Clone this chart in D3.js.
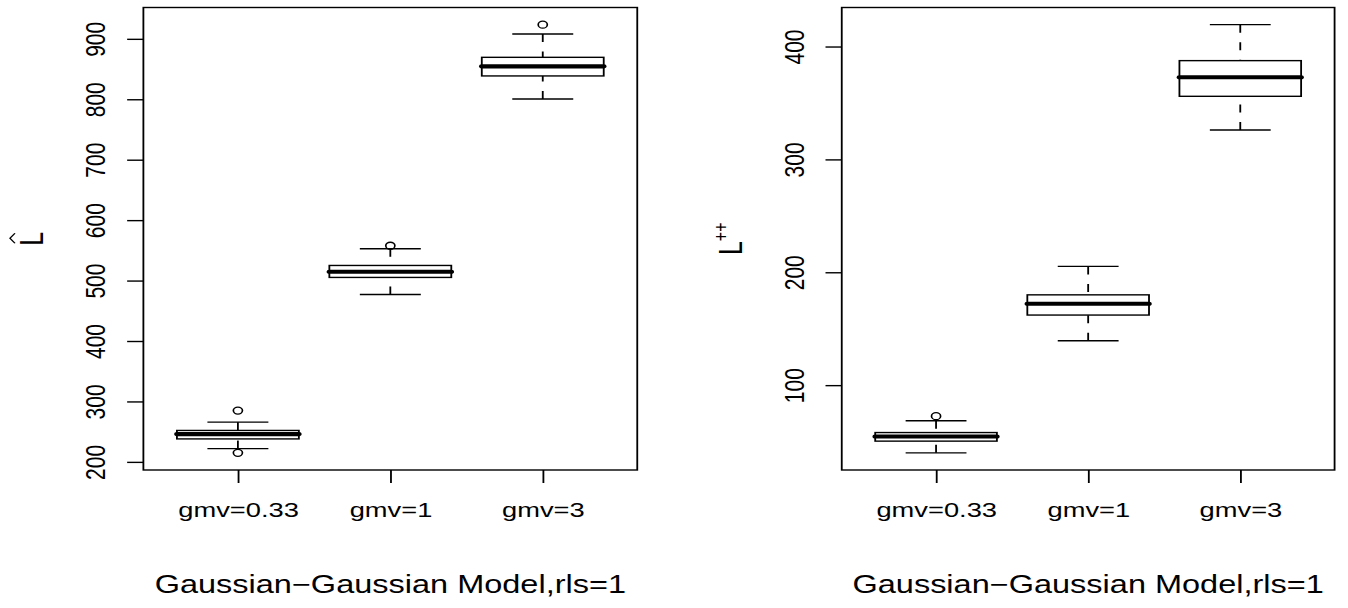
<!DOCTYPE html>
<html>
<head>
<meta charset="utf-8">
<script src="https://cdn.jsdelivr.net/npm/d3@7"></script>
<style>
body { margin: 0; background: #fff; }
svg text { font-family: "Liberation Sans", Arial, Helvetica, sans-serif; fill: #000; }
</style>
</head>
<body>
<div id="chart"></div>
<script>
// frame size, the R picture is stretched sideways so we draw in a narrower viewBox
const FRAME_WIDTH = 1348;
const FRAME_HEIGHT = 608;
const STRETCH = 1.3;
const VB_WIDTH = FRAME_WIDTH / STRETCH;

const PLOT_TOP = 7.5;
const PLOT_BOTTOM = 470;

const CATEGORIES = ['gmv=0.33', 'gmv=1', 'gmv=3'];
const TITLE = 'Gaussian\u2212Gaussian Model,rls=1';

// box stats per category: [lower whisker, q1, median, q3, upper whisker]
const LHAT_STATS = [
	[222, 238, 246, 252, 265.7],
	[477, 505.2, 514.6, 525, 552.6],
	[800.5, 838.6, 854.5, 869.4, 908.1]
];
const LHAT_OUTLIERS = [[284.9, 214.9], [557.6], [923.5]];
const LHAT_TICKS = [200, 300, 400, 500, 600, 700, 800, 900];

const LPP_STATS = [
	[40, 50.4, 54.5, 58, 68.4],
	[139.3, 162.1, 172.1, 180, 205.2],
	[326, 355.9, 372.8, 387.5, 419.4]
];
const LPP_OUTLIERS = [[72.5], [], []];
const LPP_TICKS = [100, 200, 300, 400];

const FRAME = d3.select('#chart')
	.append('svg')
		.attr('width', FRAME_WIDTH)
		.attr('height', FRAME_HEIGHT)
		.attr('viewBox', '0 0 ' + VB_WIDTH + ' ' + FRAME_HEIGHT)
		.attr('preserveAspectRatio', 'none');

function drawPanel(left, right, stats, outliers, ticks) {
	// R style range: data range plus 4% each side
	const all = stats.flat().concat(outliers.flat());
	const lo = d3.min(all), hi = d3.max(all);
	const pad = (hi - lo) * 0.04;
	const yscale = d3.scaleLinear()
		.domain([lo - pad, hi + pad])
		.range([PLOT_BOTTOM, PLOT_TOP]);
	const n = stats.length;
	const xpad = n * 0.04;
	const xscale = d3.scaleLinear()
		.domain([0.5 - xpad, n + 0.5 + xpad])
		.range([left, right]);

	const g = FRAME.append('g');

	// boxes
	g.selectAll('.box')
		.data(stats)
		.enter()
		.append('rect')
			.attr('x', (d, i) => xscale(i + 1 - 0.4))
			.attr('width', (d, i) => xscale(i + 1.4) - xscale(i + 0.6))
			.attr('y', d => yscale(d[3]))
			.attr('height', d => yscale(d[1]) - yscale(d[3]))
			.attr('fill', 'none')
			.attr('stroke', '#000')
			.attr('stroke-width', 1.4);

	// whiskers, dashed from whisker end towards box
	const whiskers = stats.flatMap((s, i) => [
		{i: i, from: s[0], to: s[1]},
		{i: i, from: s[4], to: s[3]}
	]);
	g.selectAll('.whisker')
		.data(whiskers)
		.enter()
		.append('line')
			.attr('x1', d => xscale(d.i + 1))
			.attr('x2', d => xscale(d.i + 1))
			.attr('y1', d => yscale(d.from))
			.attr('y2', d => yscale(d.to))
			.attr('stroke', '#000')
			.attr('stroke-width', 1.4)
			.attr('stroke-dasharray', '8,9.5');

	// staples
	g.selectAll('.staple')
		.data(whiskers)
		.enter()
		.append('line')
			.attr('x1', d => xscale(d.i + 1 - 0.2))
			.attr('x2', d => xscale(d.i + 1 + 0.2))
			.attr('y1', d => yscale(d.from))
			.attr('y2', d => yscale(d.from))
			.attr('stroke', '#000')
			.attr('stroke-width', 1.4);

	// medians
	g.selectAll('.median')
		.data(stats)
		.enter()
		.append('line')
			.attr('x1', (d, i) => xscale(i + 1 - 0.4))
			.attr('x2', (d, i) => xscale(i + 1 + 0.4))
			.attr('y1', d => yscale(d[2]))
			.attr('y2', d => yscale(d[2]))
			.attr('stroke', '#000')
			.attr('stroke-width', 4.2)
			.attr('stroke-linecap', 'round');

	// outliers
	const pts = outliers.flatMap((o, i) => o.map(v => ({i: i, v: v})));
	g.selectAll('.outlier')
		.data(pts)
		.enter()
		.append('circle')
			.attr('cx', d => xscale(d.i + 1))
			.attr('cy', d => yscale(d.v))
			.attr('r', 3.5)
			.attr('fill', 'none')
			.attr('stroke', '#000')
			.attr('stroke-width', 1.3);

	// plot frame
	g.append('rect')
		.attr('x', left)
		.attr('y', PLOT_TOP)
		.attr('width', right - left)
		.attr('height', PLOT_BOTTOM - PLOT_TOP)
		.attr('fill', 'none')
		.attr('stroke', '#000')
		.attr('stroke-width', 1.4);

	// y axis
	const yaxis = FRAME.append('g')
		.attr('transform', 'translate(' + left + ',0)')
		.call(d3.axisLeft(yscale).tickValues(ticks).tickSize(12.5).tickSizeOuter(0).tickFormat(d3.format('d')))
		.attr('font-size', 21);
	yaxis.select('.domain').remove();
	yaxis.selectAll('line').attr('stroke-width', 1.4);
	yaxis.selectAll('text')
		.attr('x', null)
		.attr('dy', null)
		.attr('transform', 'translate(-29.4,0) rotate(-90)')
		.attr('text-anchor', 'middle');

	// x axis
	const xaxis = FRAME.append('g')
		.attr('transform', 'translate(0,' + PLOT_BOTTOM + ')')
		.call(d3.axisBottom(xscale).tickValues(d3.range(1, n + 1)).tickSize(13).tickSizeOuter(0).tickFormat(d => CATEGORIES[d - 1]))
		.attr('font-size', 21);
	xaxis.select('.domain').remove();
	xaxis.selectAll('line').attr('stroke-width', 1.4);
	xaxis.selectAll('text')
		.attr('y', 47.5)
		.attr('dy', null);

	// title under the axis
	FRAME.append('text')
		.attr('x', (left + right) / 2)
		.attr('y', 593.5)
		.attr('text-anchor', 'middle')
		.attr('font-size', 25)
		.text(TITLE);

	// group for the rotated y label
	return FRAME.append('g')
		.attr('transform', 'translate(' + (left - 77) + ',' + ((PLOT_TOP + PLOT_BOTTOM) / 2) + ') rotate(-90)');
}

// left panel: L hat
const LAB1 = drawPanel(110.3, 490.2, LHAT_STATS, LHAT_OUTLIERS, LHAT_TICKS);
LAB1.append('text')
	.attr('text-anchor', 'middle')
	.attr('font-size', 25)
	.text('L');
LAB1.append('path')
	.attr('d', 'M-4.5,-21.8L0.5,-25.6L5.5,-21.8')
	.attr('fill', 'none')
	.attr('stroke', '#000')
	.attr('stroke-width', 1.2);

// right panel: L++
const LAB2 = drawPanel(647.5, 1026.6, LPP_STATS, LPP_OUTLIERS, LPP_TICKS);
const lab2text = LAB2.append('text')
	.attr('text-anchor', 'middle')
	.attr('font-size', 25)
	.text('L');
lab2text.append('tspan')
	.attr('font-size', 16)
	.attr('dy', -10.5)
	.text('++');
</script>
</body>
</html>
